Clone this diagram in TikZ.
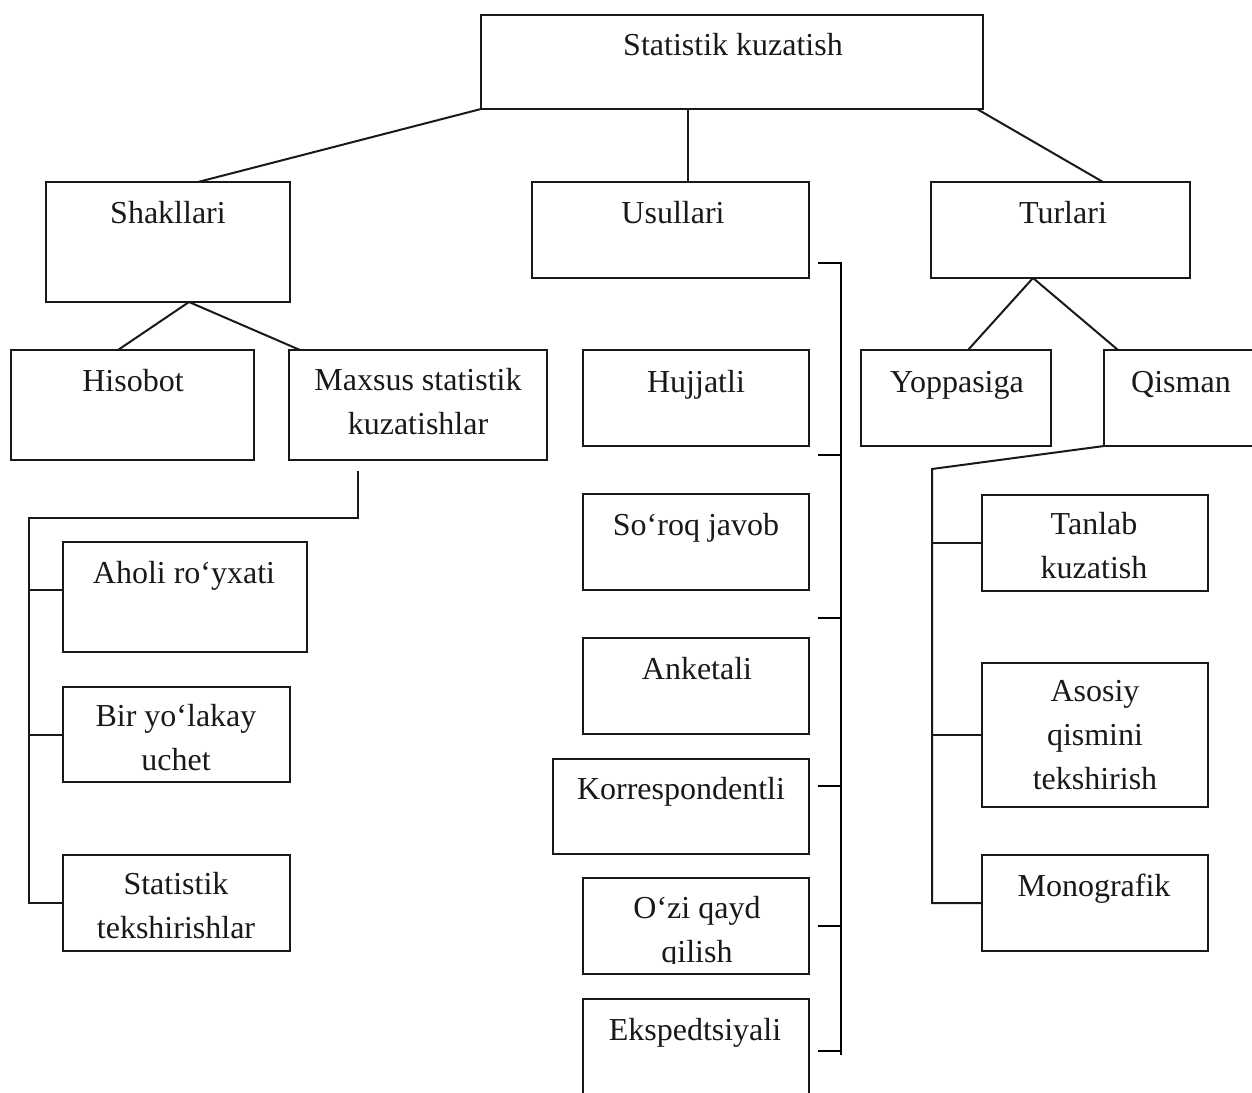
\documentclass[tikz,border=0pt]{standalone}
\usepackage{fontspec}
\setmainfont{Liberation Serif}
\usetikzlibrary{fit,calc}

\tikzset{
  box/.style={draw=black!90, line width=1pt, inner sep=0pt, outer sep=0pt},
  txt/.style={inner sep=0pt, outer sep=0pt, align=center,
    font=\fontsize{16pt}{22pt}\selectfont, text=black!90},
  link/.style={draw=black!90, line width=1pt},
  bus/.style={draw=black, line width=1.4pt},
}

\begin{document}
\begin{tikzpicture}[x=0.5pt,y=-0.5pt]
\useasboundingbox (0,0) rectangle (1252,1092);
\clip (0,0) rectangle (1252,1092);

% ---- boxes ----
\node[box, fit={(481,15) (983,109)}] (top) {};
\node[box, fit={(46,182) (290,302)}] (shak) {};
\node[box, fit={(532,182) (809,278)}] (usul) {};
\node[box, fit={(931,182) (1190,278)}] (turl) {};

\node[box, fit={(11,350) (254,460)}] (hisob) {};
\node[box, fit={(289,350) (547,460)}] (maxs) {};
\node[box, fit={(63,542) (307,652)}] (ahol) {};
\node[box, fit={(63,687) (290,782)}] (bir) {};
\node[box, fit={(63,855) (290,951)}] (stat) {};

\node[box, fit={(583,350) (809,446)}] (hujj) {};
\node[box, fit={(583,494) (809,590)}] (soroq) {};
\node[box, fit={(583,638) (809,734)}] (anket) {};
\node[box, fit={(553,759) (809,854)}] (korr) {};
\node[box, fit={(583,878) (809,974)}] (ozi) {};
\node[box, fit={(583,999) (809,1110)}] (eksp) {};

\node[box, fit={(861,350) (1051,446)}] (yopp) {};
\node[box, fit={(1104,350) (1270,446)}] (qism) {};
\node[box, fit={(982,495) (1208,591)}] (tanl) {};
\node[box, fit={(982,663) (1208,807)}] (asos) {};
\node[box, fit={(982,855) (1208,951)}] (mono) {};

% ---- labels ----
\node[txt, anchor=base] (top-t) at (733,55) {Statistik kuzatish};
\node[txt, anchor=base] (shak-t) at (168,223) {Shakllari};
\node[txt, anchor=base] (usul-t) at (673,223) {Usullari};
\node[txt, anchor=base] (turl-t) at (1063,223) {Turlari};
\node[txt, anchor=base] (hisob-t) at (133,391) {Hisobot};
\node[txt] (maxs-t) at (418,402) {Maxsus statistik\\kuzatishlar};
\node[txt, anchor=base] (ahol-t) at (184,583) {Aholi ro‘yxati};
\node[txt] (bir-t) at (176,738) {Bir yo‘lakay\\uchet};
\node[txt] (stat-t) at (176,905.5) {Statistik\\tekshirishlar};
\node[txt, anchor=base] (hujj-t) at (696,392) {Hujjatli};
\node[txt, anchor=base] (soroq-t) at (696,535) {So‘roq javob};
\node[txt, anchor=base] (anket-t) at (697,679) {Anketali};
\node[txt, anchor=base] (korr-t) at (681,799) {Korrespondentli};
\begin{scope}
  \clip (583,878) rectangle (809,963);
  \node[txt] (ozi-t) at (697,933) {O‘zi qayd\\qilish};
\end{scope}
\node[txt, anchor=base] (eksp-t) at (695,1040) {Ekspedtsiyali};
\node[txt, anchor=base] (yopp-t) at (957,392) {Yoppasiga};
\node[txt, anchor=base] (qism-t) at (1181,392) {Qisman};
\node[txt] (tanl-t) at (1094,545.5) {Tanlab\\kuzatish};
\node[txt] (asos-t) at (1095,735.5) {Asosiy\\qismini\\tekshirish};
\node[txt, anchor=base] (mono-t) at (1094,896) {Monografik};

% ---- top level connectors ----
\draw[link] (top.south west) -- ([xshift=15pt]shak.north);
\coordinate (uj) at ([xshift=8.75pt]usul.north);
\draw[link] (uj) -- (uj |- top.south);
\draw[link] ([xshift=-3pt]top.south east) -- ([xshift=21.25pt]turl.north);

% ---- left branch ----
\draw[link] ([xshift=10.5pt]shak.south) -- ([xshift=-7.25pt]hisob.north);
\draw[link] ([xshift=10.5pt]shak.south) -- ([xshift=5.5pt]maxs.north west);
\coordinate (mx) at ([shift={(-30pt,-5.5pt)}]maxs.south);
\coordinate (lbus) at (29,518);
\draw[link] (mx) |- (lbus) -- (lbus |- stat.west) -- (stat.west);
\coordinate (at) at ([yshift=3.5pt]ahol.west);
\draw[link] (at) -- (lbus |- at);
\draw[link] (bir.west) -- (lbus |- bir.west);

% ---- middle branch: bus with short ticks ----
\coordinate (ut0) at ([shift={(4.5pt,-16.5pt)}]usul.east);
\coordinate (ut1) at ([shift={(4.5pt,-28.5pt)}]hujj.east);
\coordinate (ut2) at ([shift={(4.5pt,-38pt)}]soroq.east);
\coordinate (ut3) at ([shift={(4.5pt,10.25pt)}]korr.east);
\coordinate (ut4) at ([shift={(4.5pt,0pt)}]ozi.east);
\coordinate (ut5) at ([shift={(4.5pt,1.75pt)}]eksp.east);
\coordinate (ubus) at ([xshift=11.5pt]ut0);
\coordinate (ubend) at ($(ubus |- ut5)+(0,4)$);
\draw[bus] (ut0) -- (ubus) -- (ubend);
\foreach \t in {ut1,ut2,ut3,ut4,ut5}
  \draw[bus] (\t) -- (ubus |- \t);

% ---- right branch ----
\draw[link] ([xshift=-13.75pt]turl.south) -- ([xshift=6pt]yopp.north);
\draw[link] ([xshift=-13.75pt]turl.south) -- ([xshift=7pt]qism.north west);
\coordinate (rbus) at (932,469);
\draw[link] (qism.south west) -- (rbus) -- (rbus |- mono.west) -- (mono.west);
\draw[link] (tanl.west) -- (rbus |- tanl.west);
\draw[link] (asos.west) -- (rbus |- asos.west);
\end{tikzpicture}
\end{document}
